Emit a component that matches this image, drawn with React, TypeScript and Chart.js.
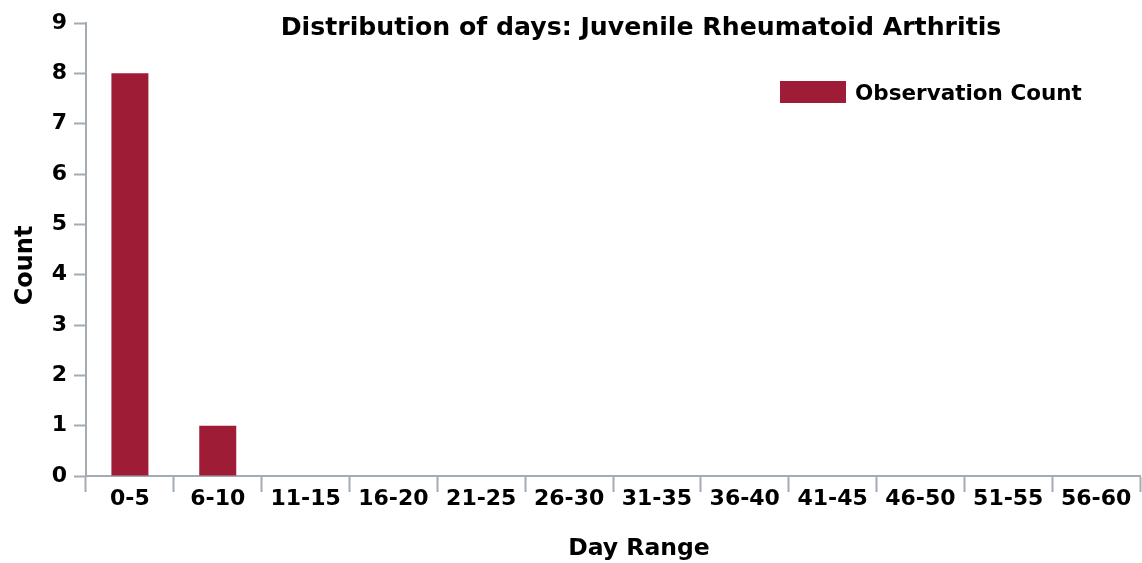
import React, { useEffect, useRef } from "react";
import { Chart, registerables } from "chart.js";

Chart.register(...registerables);

const FONT = '"DejaVu Sans", "Liberation Sans", Arial, sans-serif';
const TITLE = "Distribution of days: Juvenile Rheumatoid Arthritis";
const X_TITLE = "Day Range";
const Y_TITLE = "Count";
const SERIES_LABEL = "Observation Count";

const categories = ["0-5", "6-10", "11-15", "16-20", "21-25", "26-30", "31-35", "36-40", "41-45", "46-50", "51-55", "56-60"];
const counts = [8, 1, 0, 0, 0, 0, 0, 0, 0, 0, 0, 0];
const yMin = 0;
const yMax = 9;
const yStep = 1;

const BAR_COLOR = "#9e1c36";
const AXIS_COLOR = "#a3abb4";

const textPlugin = {
  id: "customTexts",
  afterDraw(chart: any) {
    const { ctx, chartArea } = chart;
    ctx.save();
    ctx.fillStyle = "#000";
    ctx.textBaseline = "alphabetic";

    // Title
    ctx.font = `bold 25.2px ${FONT}`;
    ctx.textAlign = "center";
    const cx = (chartArea.left + chartArea.right) / 2 + 28;
    ctx.fillText(TITLE, cx, 34.5);

    // X title
    ctx.font = `bold 23.5px ${FONT}`;
    ctx.fillText(X_TITLE, cx - 2, 555);

    // Y title
    ctx.font = `bold 24px ${FONT}`;
    ctx.save();
    ctx.translate(32, (chartArea.top + chartArea.bottom) / 2 + 16);
    ctx.rotate(-Math.PI / 2);
    ctx.textAlign = "center";
    ctx.fillText(Y_TITLE, 0, 0);
    ctx.restore();

    // Legend
    const ds = chart.data.datasets[0];
    ctx.fillStyle = ds.backgroundColor;
    const lx = chartArea.right - 360;
    const ly = chartArea.top + 58;
    ctx.fillRect(lx, ly, 66, 22);
    ctx.fillStyle = "#000";
    ctx.textAlign = "left";
    ctx.font = `bold 21.5px ${FONT}`;
    ctx.fillText(ds.label, lx + 75, ly + 19);
    ctx.restore();
  },
};

export default function App() {
  const ref = useRef<HTMLCanvasElement | null>(null);
  useEffect(() => {
    if (!ref.current) return;
    const chart = new Chart(ref.current, {
      type: "bar",
      data: {
        labels: categories,
        datasets: [
          {
            label: SERIES_LABEL,
            data: counts,
            backgroundColor: BAR_COLOR,
            borderWidth: 0,
            inflateAmount: 0,
            barThickness: 37,
          },
        ],
      },
      options: {
        responsive: false,
        animation: false,
        layout: { padding: { top: 23, right: 2, left: 0, bottom: 0 } },
        plugins: {
          legend: { display: false },
          title: { display: false },
          tooltip: { enabled: false },
        },
        scales: {
          x: {
            offset: true,
            grid: {
              offset: true,
              drawOnChartArea: false,
              drawTicks: true,
              tickLength: 16,
              tickWidth: 2,
              tickColor: AXIS_COLOR,
            },
            border: { display: true, color: AXIS_COLOR, width: 2 },
            ticks: {
              color: "#000",
              font: { family: FONT, size: 22, weight: "bold" },
              padding: -6,
              maxRotation: 0,
              autoSkip: false,
            },
            afterFit(scale: any) {
              scale.height = 87;
            },
          },
          y: {
            min: yMin,
            max: yMax,
            grid: {
              drawOnChartArea: false,
              drawTicks: true,
              tickLength: 12,
              tickWidth: 2,
              tickColor: AXIS_COLOR,
            },
            border: { display: true, color: AXIS_COLOR, width: 2 },
            ticks: {
              stepSize: yStep,
              color: "#000",
              font: { family: FONT, size: 22, weight: "bold" },
              padding: 7,
            },
            afterFit(scale: any) {
              scale.width = 86;
            },
          },
        },
      },
      plugins: [textPlugin],
    });
    return () => chart.destroy();
  }, []);
  return (
    <div style={{ position: "absolute", left: 0, top: 0, width: 1142, height: 563 }}>
      <canvas ref={ref} width={1142} height={563} style={{ display: "block" }} />
    </div>
  );
}
